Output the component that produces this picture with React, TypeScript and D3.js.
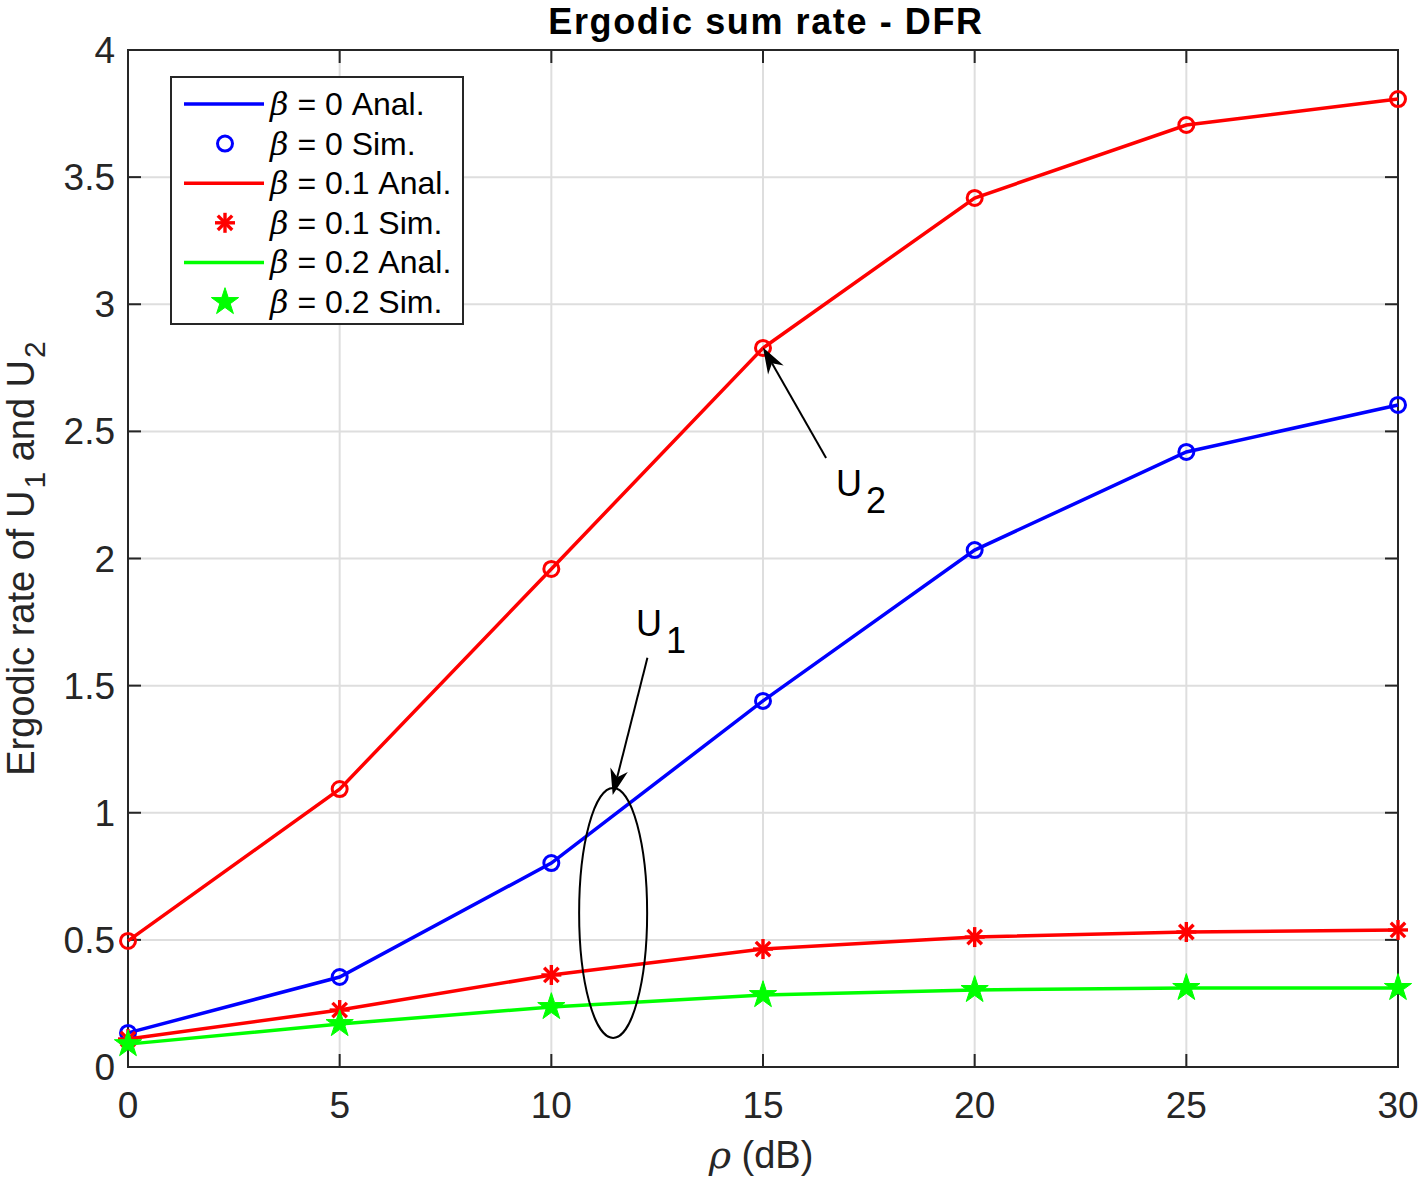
import React from "react";
import * as d3 from "d3";

const xValues = [0, 5, 10, 15, 20, 25, 30];
const blueU2 = [0.134, 0.354, 0.802, 1.44, 2.033, 2.419, 2.604];
const redU2 = [0.496, 1.093, 1.959, 2.828, 3.418, 3.705, 3.807];
const redU1 = [0.11, 0.224, 0.362, 0.464, 0.511, 0.531, 0.539];
const greenU1 = [0.09, 0.169, 0.236, 0.283, 0.303, 0.311, 0.311];
const xTicks = [0, 5, 10, 15, 20, 25, 30];
const yTicks = [0, 0.5, 1, 1.5, 2, 2.5, 3, 3.5, 4];
const legendLabels = ["0 Anal.", "0 Sim.", "0.1 Anal.", "0.1 Sim.", "0.2 Anal.", "0.2 Sim."];

const W = 1418, H = 1177;
const L = 128, R = 1398, T = 50, B = 1067;
const FONT = "'Liberation Sans', Arial, Helvetica, sans-serif";
const BLUE = "#0000ff", RED = "#ff0000", GREEN = "#00ff00";

const x = d3.scaleLinear().domain([0, 30]).range([L, R]);
const y = d3.scaleLinear().domain([0, 4]).range([B, T]);
const line = d3.line<number>().x((_, i) => x(xValues[i])).y((d) => y(d));

function Circle({ cx, cy, color }: any) {
  return <circle cx={cx} cy={cy} r={7.5} fill="none" stroke={color} strokeWidth={3} />;
}
function Asterisk({ cx, cy, color }: any) {
  const r = 10;
  const d = r * 0.72;
  return (
    <g stroke={color} strokeWidth={3.4}>
      <line x1={cx - r} y1={cy} x2={cx + r} y2={cy} />
      <line x1={cx} y1={cy - r} x2={cx} y2={cy + r} />
      <line x1={cx - d} y1={cy - d} x2={cx + d} y2={cy + d} />
      <line x1={cx - d} y1={cy + d} x2={cx + d} y2={cy - d} />
    </g>
  );
}
function Star({ cx, cy, color }: any) {
  const sym = d3.symbol().type(d3.symbolStar).size(230)();
  return <path d={sym as string} transform={`translate(${cx},${cy})`} fill={color} stroke={color} strokeWidth={1} />;
}

export default function App() {
  const series = [
    { data: redU2, color: RED, M: Circle },
    { data: blueU2, color: BLUE, M: Circle },
    { data: redU1, color: RED, M: Asterisk },
    { data: greenU1, color: GREEN, M: Star },
  ];
  const legendItems = [
    { color: BLUE, type: "line" },
    { color: BLUE, type: "circle" },
    { color: RED, type: "line" },
    { color: RED, type: "asterisk" },
    { color: GREEN, type: "line" },
    { color: GREEN, type: "star" },
  ];
  const ell = { cx: 11.46, cy: 0.606 };
  const u1Arrow = { x1: 12.27, y1: 1.61, x2: 11.45, y2: 1.07 };
  const u2Arrow = { x1: 16.49, y1: 2.395, x2: 15.0, y2: 2.83 };

  const arrowHead = (x1: number, y1: number, x2: number, y2: number) => {
    const ax1 = x(x1), ay1 = y(y1), ax2 = x(x2), ay2 = y(y2);
    const ang = Math.atan2(ay2 - ay1, ax2 - ax1);
    const len = 26, half = 9;
    const bx = ax2 - len * Math.cos(ang), by = ay2 - len * Math.sin(ang);
    const px = -Math.sin(ang) * half, py = Math.cos(ang) * half;
    const notchX = ax2 - len * 0.7 * Math.cos(ang), notchY = ay2 - len * 0.7 * Math.sin(ang);
    return (
      <g>
        <line x1={ax1} y1={ay1} x2={notchX} y2={notchY} stroke="black" strokeWidth={2} />
        <path d={`M${ax2},${ay2} L${bx + px},${by + py} L${notchX},${notchY} L${bx - px},${by - py} Z`} fill="black" />
      </g>
    );
  };

  return (
    <svg width={W} height={H} style={{ display: "block", position: "absolute", left: 0, top: 0 }} fontFamily={FONT}>
      <rect x={0} y={0} width={W} height={H} fill="white" />
      {xTicks.map((t) => (
        <line key={"gx" + t} x1={x(t)} x2={x(t)} y1={T} y2={B} stroke="#dedede" strokeWidth={2} />
      ))}
      {yTicks.map((t) => (
        <line key={"gy" + t} x1={L} x2={R} y1={y(t)} y2={y(t)} stroke="#dedede" strokeWidth={2} />
      ))}
      {xTicks.map((t) => (
        <g key={"tx" + t} stroke="#262626" strokeWidth={2}>
          <line x1={x(t)} x2={x(t)} y1={B} y2={B - 13} />
          <line x1={x(t)} x2={x(t)} y1={T} y2={T + 13} />
        </g>
      ))}
      {yTicks.map((t) => (
        <g key={"ty" + t} stroke="#262626" strokeWidth={2}>
          <line x1={L} x2={L + 13} y1={y(t)} y2={y(t)} />
          <line x1={R} x2={R - 13} y1={y(t)} y2={y(t)} />
        </g>
      ))}
      <rect x={L} y={T} width={R - L} height={B - T} fill="none" stroke="#262626" strokeWidth={2} />
      {xTicks.map((t) => (
        <text key={"lx" + t} x={x(t)} y={1118} textAnchor="middle" fontSize={37} fill="#262626">{t}</text>
      ))}
      {yTicks.map((t) => (
        <text key={"ly" + t} x={115} y={y(t) + 13} textAnchor="end" fontSize={37} fill="#262626">{t}</text>
      ))}
      {series.map((s, si) => (
        <g key={"s" + si}>
          <path d={line(s.data) as string} fill="none" stroke={s.color} strokeWidth={3.5} />
          {s.data.map((v, i) => (
            <s.M key={i} cx={x(xValues[i])} cy={y(v)} color={s.color} />
          ))}
        </g>
      ))}
      <ellipse cx={x(ell.cx)} cy={y(ell.cy)} rx={34} ry={125} fill="none" stroke="black" strokeWidth={2} />
      {arrowHead(u1Arrow.x1, u1Arrow.y1, u1Arrow.x2, u1Arrow.y2)}
      {arrowHead(u2Arrow.x1, u2Arrow.y1, u2Arrow.x2, u2Arrow.y2)}
      <text x={636} y={636} fontSize={36} fill="black">U<tspan dx={4} dy={17}>1</tspan></text>
      <text x={836} y={496} fontSize={36} fill="black">U<tspan dx={4} dy={17}>2</tspan></text>
      <rect x={171} y={77} width={292} height={247} fill="white" stroke="#262626" strokeWidth={2} />
      {legendItems.map((it, i) => {
        const cy = 104 + i * 39.6;
        return (
          <g key={"lg" + i}>
            {it.type === "line" && <line x1={184} x2={264} y1={cy} y2={cy} stroke={it.color} strokeWidth={3.5} />}
            {it.type === "circle" && <Circle cx={225} cy={cy} color={it.color} />}
            {it.type === "asterisk" && <Asterisk cx={225} cy={cy} color={it.color} />}
            {it.type === "star" && <Star cx={225} cy={cy} color={it.color} />}
            <text x={270} y={cy + 11} fontSize={32} fill="black">
              <tspan fontStyle="italic" fontFamily="'DejaVu Serif', serif">β</tspan>
              <tspan> = {legendLabels[i]}</tspan>
            </text>
          </g>
        );
      })}
      <text x={(L + R) / 2 + 3} y={34} textAnchor="middle" fontSize={36} fontWeight="bold" letterSpacing={1.6} fill="black">Ergodic sum rate - DFR</text>
      <text x={(L + R) / 2 - 2} y={1168} textAnchor="middle" fontSize={38} fill="#262626">
        <tspan fontStyle="italic" fontFamily="'DejaVu Serif', serif">ρ</tspan> (dB)
      </text>
      <text transform={`translate(34, ${(T + B) / 2}) rotate(-90)`} textAnchor="middle" fontSize={38} fill="#262626">
        Ergodic rate of U<tspan dx={2} dy={11} fontSize={30}>1</tspan><tspan dy={-11}> and U</tspan><tspan dx={2} dy={11} fontSize={30}>2</tspan>
      </text>
    </svg>
  );
}
